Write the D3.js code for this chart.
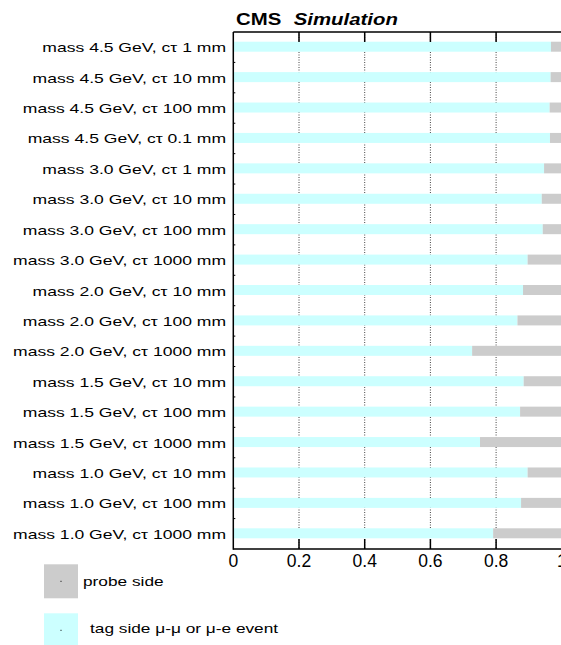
<!DOCTYPE html>
<html><head><meta charset="utf-8">
<script src="https://cdn.jsdelivr.net/npm/d3@7"></script>
<style>body{margin:0;background:#fff;overflow:hidden}svg{display:block}</style>
</head><body>
<script>
const categories = [
 "mass 4.5 GeV, c\u03c4 1 mm","mass 4.5 GeV, c\u03c4 10 mm","mass 4.5 GeV, c\u03c4 100 mm","mass 4.5 GeV, c\u03c4 0.1 mm",
 "mass 3.0 GeV, c\u03c4 1 mm","mass 3.0 GeV, c\u03c4 10 mm","mass 3.0 GeV, c\u03c4 100 mm","mass 3.0 GeV, c\u03c4 1000 mm",
 "mass 2.0 GeV, c\u03c4 10 mm","mass 2.0 GeV, c\u03c4 100 mm","mass 2.0 GeV, c\u03c4 1000 mm",
 "mass 1.5 GeV, c\u03c4 10 mm","mass 1.5 GeV, c\u03c4 100 mm","mass 1.5 GeV, c\u03c4 1000 mm",
 "mass 1.0 GeV, c\u03c4 10 mm","mass 1.0 GeV, c\u03c4 100 mm","mass 1.0 GeV, c\u03c4 1000 mm"];
const tagSide   = [0.967,0.966,0.963,0.964,0.946,0.939,0.942,0.896,0.882,0.865,0.727,0.884,0.873,0.751,0.896,0.876,0.791];
const probeSide = [0.033,0.034,0.037,0.036,0.054,0.061,0.058,0.104,0.118,0.135,0.273,0.116,0.127,0.249,0.104,0.124,0.209];
const xTicks = [0,0.2,0.4,0.6,0.8,1];
const xTickLabels = ["0","0.2","0.4","0.6","0.8","1"];
const legendLabels = ["probe side","tag side \u03bc-\u03bc or \u03bc-e event"];
const colors = {tag:"#ccffff", probe:"#cccccc"};

const W=561,H=645;
const svg=d3.select("body").append("svg").attr("width",W).attr("height",H);
const x=d3.scaleLinear().domain([0,1]).range([233.3,561.8]);
const y=d3.scaleBand().domain(categories).range([32,549]).padding(0);
const barH=10;
const font="Liberation Sans, Arial, Helvetica, sans-serif";

// gridlines
svg.append("g").selectAll("line").data([0.2,0.4,0.6,0.8]).join("line")
  .attr("x1",d=>x(d)).attr("x2",d=>x(d)).attr("y1",32).attr("y2",549)
  .attr("stroke","#444").attr("stroke-width",1).attr("stroke-dasharray","1,1.5");

// bars
const g=svg.append("g");
categories.forEach((c,i)=>{
  const yc=y(c)+y.bandwidth()/2-0.5;
  g.append("rect").attr("x",x(0)).attr("y",yc-barH/2).attr("width",x(tagSide[i])-x(0)).attr("height",barH).attr("fill",colors.tag);
  g.append("rect").attr("x",x(tagSide[i])).attr("y",yc-barH/2).attr("width",x(tagSide[i]+probeSide[i])-x(tagSide[i])).attr("height",barH).attr("fill",colors.probe);
});

// frame lines
svg.append("line").attr("x1",x(0)).attr("x2",W).attr("y1",32).attr("y2",32).attr("stroke","#000").attr("stroke-width",1.5);
svg.append("line").attr("x1",x(0)).attr("x2",W).attr("y1",549).attr("y2",549).attr("stroke","#000").attr("stroke-width",1.5);
svg.append("line").attr("x1",x(0)).attr("x2",x(0)).attr("y1",32).attr("y2",549.7).attr("stroke","#000").attr("stroke-width",1.5);

// x ticks top and bottom (inward)
svg.append("g").selectAll("line").data(xTicks.filter(d=>d>0&&d<1)).join("line")
  .attr("x1",d=>x(d)).attr("x2",d=>x(d)).attr("y1",32).attr("y2",42).attr("stroke","#000").attr("stroke-width",1.5);
svg.append("g").selectAll("line").data(xTicks.filter(d=>d>0&&d<1)).join("line")
  .attr("x1",d=>x(d)).attr("x2",d=>x(d)).attr("y1",539).attr("y2",549).attr("stroke","#000").attr("stroke-width",1.5);
// small y ticks at band boundaries
svg.append("g").selectAll("line").data(categories.slice(1)).join("line")
  .attr("x1",x(0)).attr("x2",x(0)+2).attr("y1",d=>y(d)).attr("y2",d=>y(d)).attr("stroke","#000").attr("stroke-width",1);

// x tick labels
svg.append("g").selectAll("text").data(xTicks).join("text")
  .attr("x",d=>x(d)).attr("y",567).attr("text-anchor","middle")
  .attr("font-family",font).attr("font-size",17.5).attr("fill","#000")
  .text((d,i)=>xTickLabels[i]);

// y labels (horizontally stretched like reference)
svg.append("g").selectAll("text").data(categories).join("text")
  .attr("transform",d=>`translate(226,${y(d)+y.bandwidth()/2+5}) scale(1.29,1)`)
  .attr("text-anchor","end").attr("font-family",font).attr("font-size",13.6).attr("fill","#000")
  .text(d=>d);

// title
const t=svg.append("text").attr("transform","translate(236,25) scale(1.25,1)")
  .attr("font-family",font).attr("font-size",16.3).attr("font-weight","bold");
t.append("tspan").text("CMS");
t.append("tspan").attr("dx",10).attr("font-style","italic").text("Simulation");

// legend
const legY=[564.3,613.3];
const legCols=[colors.probe,colors.tag];
legendLabels.forEach((l,i)=>{
  svg.append("rect").attr("x",44).attr("y",legY[i]).attr("width",34).attr("height",34).attr("fill",legCols[i]);
  svg.append("rect").attr("x",60.5).attr("y",legY[i]+16.5).attr("width",1).attr("height",1).attr("fill","#000");
  svg.append("text").attr("transform",`translate(${i===0?83:90},${i===0?586:633}) scale(1.27,1)`)
    .attr("font-family",font).attr("font-size",13.6).attr("fill","#000").text(l);
});
</script>
</body></html>
